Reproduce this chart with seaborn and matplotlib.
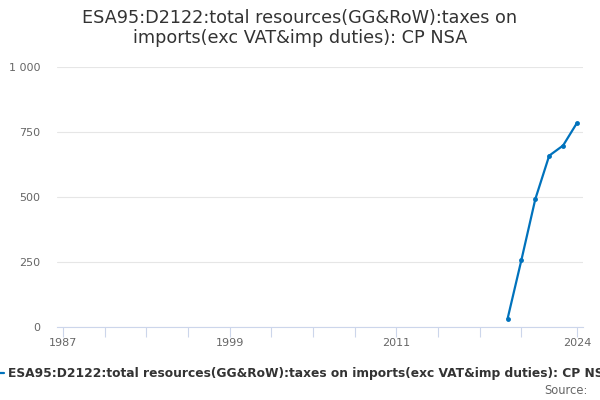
import matplotlib
matplotlib.use("Agg")
import matplotlib.pyplot as plt
import seaborn as sns
import pandas as pd
from matplotlib.ticker import FixedLocator, FuncFormatter

years = [2019, 2020, 2021, 2022, 2023, 2024]
values = [31, 258, 492, 659, 698, 785]
series_name = "ESA95:D2122:total resources(GG&RoW):taxes on imports(exc VAT&imp duties): CP NSA"
title = "ESA95:D2122:total resources(GG&RoW):taxes on\nimports(exc VAT&imp duties): CP NSA"
x_label_years = [1987, 1999, 2011, 2024]
x_minor_years = [1987, 1990, 1993, 1996, 1999, 2002, 2005, 2008, 2011, 2014, 2017, 2020, 2024]
y_ticks = [0, 250, 500, 750, 1000]

df = pd.DataFrame({"year": years, "value": values})

sns.set_theme(style="white")
plt.rcParams['font.family'] = ['DejaVu Sans']

fig = plt.figure(figsize=(6, 4), dpi=100)
ax = fig.add_axes([57/600, 1-327/400, (583-57)/600, (327-67)/400])

color = "#0072bc"
sns.lineplot(data=df, x="year", y="value", ax=ax, color=color, linewidth=1.6,
             marker="o", markersize=3.5, markeredgewidth=0, legend=False)

ax.set_xlim(1987 - 6/13.86, 2024 + 6/13.86)
ax.set_ylim(0, 1000)
ax.set_xlabel("")
ax.set_ylabel("")

ax.yaxis.set_major_locator(FixedLocator(y_ticks))
ax.yaxis.set_major_formatter(FuncFormatter(lambda v, p: f"{int(v):,}".replace(",", " ")))
ax.grid(axis="y", color="#e6e6e6", linewidth=0.8)
ax.set_axisbelow(True)

ax.xaxis.set_major_locator(FixedLocator(x_label_years))
ax.xaxis.set_minor_locator(FixedLocator(x_minor_years))
ax.tick_params(axis="x", which="both", direction="out", length=7, width=0.8,
               color="#ccd6eb", labelsize=8, labelcolor="#666666", pad=1, bottom=True)
ax.tick_params(axis="y", length=0, labelsize=8, labelcolor="#666666", pad=12)

for s in ["top", "right", "left"]:
    ax.spines[s].set_visible(False)
ax.spines["bottom"].set_color("#ccd6eb")
ax.spines["bottom"].set_linewidth(0.8)

for lab in ax.get_yticklabels():
    lab.set_horizontalalignment("right")

fig.text(0.5, 1-28/400, title, ha="center", va="center", fontsize=12.7,
         color="#333333", linespacing=1.2)

fig.add_artist(plt.Line2D([0, 4/600], [1-373/400, 1-373/400], color=color, linewidth=1.6,
                          transform=fig.transFigure))
fig.text(8/600, 1-373/400, series_name, ha="left", va="center", fontsize=8.8,
         fontweight="bold", color="#333333")
fig.text(588/600, 1-391/400, "Source:", ha="right", va="center", fontsize=8.3,
         color="#666666")

fig.savefig("out.png", dpi=100)
